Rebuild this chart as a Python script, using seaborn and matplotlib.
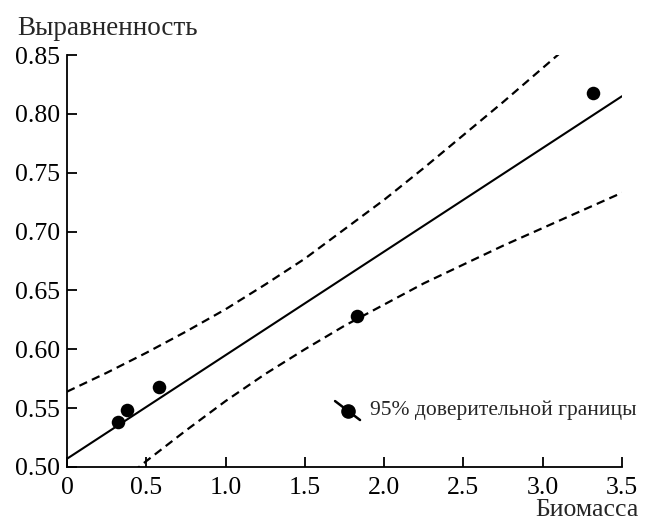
import numpy as np
import pandas as pd
import matplotlib
matplotlib.use("Agg")
import matplotlib.pyplot as plt
import seaborn as sns

# точки (биомасса, выравненность)
biomass = [0.32, 0.38, 0.58, 1.83, 3.32]
evenness = [0.538, 0.548, 0.568, 0.628, 0.818]

# линия регрессии и 95% доверительные границы
grid_x = [0.0, 0.25, 0.5, 0.75, 1.0, 1.25, 1.5, 1.75, 2.0, 2.25, 2.5, 2.75, 3.0, 3.25, 3.5]
fit_y = [0.507, 0.529, 0.551, 0.573, 0.595, 0.617, 0.639, 0.661, 0.683, 0.705, 0.727, 0.749, 0.771, 0.793, 0.815]
upper_y = [0.564, 0.580, 0.597, 0.615, 0.634, 0.655, 0.677, 0.702, 0.727, 0.754, 0.782, 0.810, 0.839, 0.868, 0.897]
lower_y = [0.450, 0.478, 0.505, 0.531, 0.556, 0.579, 0.600, 0.620, 0.638, 0.656, 0.672, 0.688, 0.703, 0.718, 0.733]

x_ticks = [0, 0.5, 1.0, 1.5, 2.0, 2.5, 3.0, 3.5]
x_labels = ["0", "0.5", "1.0", "1.5", "2.0", "2.5", "3.0", "3.5"]
y_ticks = [0.50, 0.55, 0.60, 0.65, 0.70, 0.75, 0.80, 0.85]
y_labels = ["0.50", "0.55", "0.60", "0.65", "0.70", "0.75", "0.80", "0.85"]

sns.set_theme(style="ticks")
plt.rcParams["font.family"] = ["Liberation Serif", "DejaVu Serif"]

fig = plt.figure(figsize=(6.53, 5.23), dpi=100)
ax = fig.add_axes([0.1026, 0.1071, 0.8499, 0.7877])

lines = pd.DataFrame({"x": grid_x, "fit": fit_y, "up": upper_y, "lo": lower_y})
pts = pd.DataFrame({"x": biomass, "y": evenness})

sns.lineplot(data=lines, x="x", y="fit", ax=ax, color="black", lw=1.5)
for col in ["up", "lo"]:
    sns.lineplot(data=lines, x="x", y=col, ax=ax, color="black", lw=1.6,
                 linestyle=(0, (3.8, 2.4)))
sns.scatterplot(data=pts, x="x", y="y", ax=ax, color="black", s=95,
                edgecolor="black", linewidth=0, zorder=5)

ax.set_xlim(0, 3.5)
ax.set_ylim(0.50, 0.85)
ax.set_xticks(x_ticks)
ax.set_xticklabels(x_labels)
ax.set_yticks(y_ticks)
ax.set_yticklabels(y_labels)
ax.tick_params(direction="in", length=7, width=1.3, labelsize=18.5, colors="black", pad=5)
ax.tick_params(axis="x", pad=7)
ax.set_xlabel("")
ax.set_ylabel("")
sns.despine(ax=ax)
for s in ["left", "bottom"]:
    ax.spines[s].set_linewidth(1.3)
    ax.spines[s].set_color("black")

fig.text(0.026, 0.945, "Выравненность", fontsize=19.5, ha="left", va="center")
fig.text(0.978, 0.003, "Биомасса", fontsize=18.5, ha="right", va="bottom")

# условное обозначение
ax.plot([0.483, 0.528], [0.160, 0.114], transform=ax.transAxes, color="black",
        lw=1.8, clip_on=False)
ax.plot([0.506], [0.137], transform=ax.transAxes, marker="o", ms=9.5,
        color="black", clip_on=False)
ax.text(0.546, 0.137, "95% доверительной границы", transform=ax.transAxes,
        fontsize=15.5, ha="left", va="center")

fig.savefig("out.png", dpi=100)
